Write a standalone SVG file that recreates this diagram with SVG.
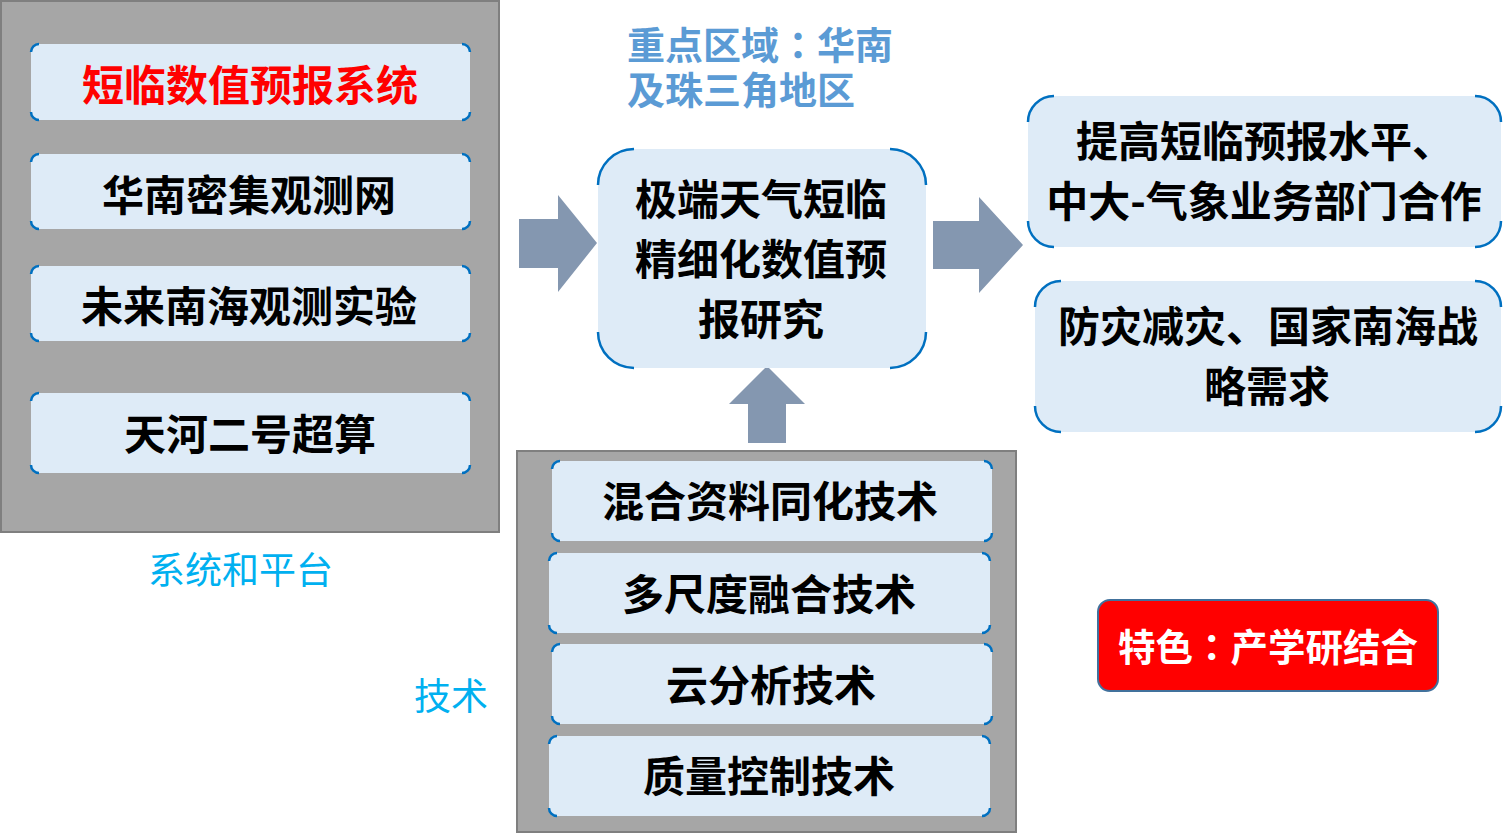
<svg xmlns="http://www.w3.org/2000/svg" width="1509" height="834" viewBox="0 0 1509 834">
<style>
.panel{fill:#A6A6A6;stroke:#7F7F7F;stroke-width:2}
.box{fill:#DEEBF7;stroke:none}
.corner{fill:none;stroke:#0070C0;stroke-width:2.5}
.arrow{fill:#8497B0}
.t{font-family:"Noto Sans CJK SC","Noto Sans",sans-serif;font-weight:700;font-size:42px;fill:#000;text-anchor:middle}
.red{fill:#FF0000}
.lbl{font-family:"Noto Sans CJK SC","Noto Sans",sans-serif;font-weight:400;font-size:37px;fill:#00B0F0}
.focus{font-family:"Noto Sans CJK SC","Noto Sans",sans-serif;font-weight:700;font-size:38px;fill:#5B9BD5}
.feat{font-family:"Noto Sans CJK SC","Noto Sans",sans-serif;font-weight:700;font-size:37.5px;fill:#FFFFFF;text-anchor:middle}
.colon{font-family:"Noto Sans CJK TC","Noto Sans CJK SC",sans-serif}
</style>
<rect width="1509" height="834" fill="#FFFFFF"/>

<g id="panel-systems">
<rect class="panel" x="1" y="1" width="498" height="531"/>
</g>
<g id="panel-tech">
<rect class="panel" x="517" y="451" width="499" height="381"/>
</g>

<g id="connectors">
<polygon class="arrow" points="519,219 558,219 558,195 597,243 558,292 558,268 519,268"/>
<polygon class="arrow" points="933,221 979,221 979,197 1023,245 979,293 979,269 933,269"/>
<polygon class="arrow" points="748,443 748,404 729,404 767,366 805,404 786,404 786,443"/>
</g>

<g id="node-sys1">
<rect class="box" x="31" y="44" width="439" height="76" rx="8"/>
<path class="corner" d="M31,52 A8,8 0 0 1 39,44 M462,44 A8,8 0 0 1 470,52 M470,112 A8,8 0 0 1 462,120 M39,120 A8,8 0 0 1 31,112"/>
<text class="t red" x="250" y="101">短临数值预报系统</text>
</g>
<g id="node-sys2">
<rect class="box" x="31" y="154" width="439" height="75" rx="8"/>
<path class="corner" d="M31,162 A8,8 0 0 1 39,154 M462,154 A8,8 0 0 1 470,162 M470,221 A8,8 0 0 1 462,229 M39,229 A8,8 0 0 1 31,221"/>
<text class="t" x="249" y="211">华南密集观测网</text>
</g>
<g id="node-sys3">
<rect class="box" x="31" y="266" width="439" height="75" rx="8"/>
<path class="corner" d="M31,274 A8,8 0 0 1 39,266 M462,266 A8,8 0 0 1 470,274 M470,333 A8,8 0 0 1 462,341 M39,341 A8,8 0 0 1 31,333"/>
<text class="t" x="249" y="322">未来南海观测实验</text>
</g>
<g id="node-sys4">
<rect class="box" x="31" y="393" width="439" height="80" rx="8"/>
<path class="corner" d="M31,401 A8,8 0 0 1 39,393 M462,393 A8,8 0 0 1 470,401 M470,465 A8,8 0 0 1 462,473 M39,473 A8,8 0 0 1 31,465"/>
<text class="t" x="250" y="450">天河二号超算</text>
</g>

<g id="label-systems">
<text class="lbl" x="148" y="584">系统和平台</text>
</g>
<g id="label-tech">
<text class="lbl" x="414" y="710">技术</text>
</g>

<g id="label-focus">
<text class="focus" x="627" y="59">重点区域<tspan class="colon">：</tspan>华南</text>
<text class="focus" x="627" y="104">及珠三角地区</text>
</g>

<g id="node-center">
<rect class="box" x="598" y="149" width="328" height="219" rx="36"/>
<path class="corner" d="M598,185 A36,36 0 0 1 634,149 M890,149 A36,36 0 0 1 926,185 M926,332 A36,36 0 0 1 890,368 M634,368 A36,36 0 0 1 598,332"/>
<text class="t" x="761" y="215">极端天气短临</text>
<text class="t" x="761" y="275">精细化数值预</text>
<text class="t" x="761" y="335">报研究</text>
</g>

<g id="node-out1">
<rect class="box" x="1028" y="96" width="473" height="151" rx="26"/>
<path class="corner" d="M1028,122 A26,26 0 0 1 1054,96 M1475,96 A26,26 0 0 1 1501,122 M1501,221 A26,26 0 0 1 1475,247 M1054,247 A26,26 0 0 1 1028,221"/>
<text class="t" x="1265" y="157">提高短临预报水平、</text>
<text class="t" x="1264" y="217">中大-气象业务部门合作</text>
</g>
<g id="node-out2">
<rect class="box" x="1035" y="281" width="466" height="151" rx="26"/>
<path class="corner" d="M1035,307 A26,26 0 0 1 1061,281 M1475,281 A26,26 0 0 1 1501,307 M1501,406 A26,26 0 0 1 1475,432 M1061,432 A26,26 0 0 1 1035,406"/>
<text class="t" x="1268" y="342">防灾减灾、国家南海战</text>
<text class="t" x="1267" y="402">略需求</text>
</g>

<g id="node-tech1">
<rect class="box" x="552" y="461" width="440" height="80" rx="8"/>
<path class="corner" d="M552,469 A8,8 0 0 1 560,461 M984,461 A8,8 0 0 1 992,469 M992,533 A8,8 0 0 1 984,541 M560,541 A8,8 0 0 1 552,533"/>
<text class="t" x="770" y="517">混合资料同化技术</text>
</g>
<g id="node-tech2">
<rect class="box" x="549" y="553" width="441" height="80" rx="8"/>
<path class="corner" d="M549,561 A8,8 0 0 1 557,553 M982,553 A8,8 0 0 1 990,561 M990,625 A8,8 0 0 1 982,633 M557,633 A8,8 0 0 1 549,625"/>
<text class="t" x="769" y="610">多尺度融合技术</text>
</g>
<g id="node-tech3">
<rect class="box" x="552" y="644" width="440" height="80" rx="8"/>
<path class="corner" d="M552,652 A8,8 0 0 1 560,644 M984,644 A8,8 0 0 1 992,652 M992,716 A8,8 0 0 1 984,724 M560,724 A8,8 0 0 1 552,716"/>
<text class="t" x="771" y="701">云分析技术</text>
</g>
<g id="node-tech4">
<rect class="box" x="549" y="736" width="441" height="80" rx="8"/>
<path class="corner" d="M549,744 A8,8 0 0 1 557,736 M982,736 A8,8 0 0 1 990,744 M990,808 A8,8 0 0 1 982,816 M557,816 A8,8 0 0 1 549,808"/>
<text class="t" x="769" y="792">质量控制技术</text>
</g>

<g id="node-feature">
<rect x="1098" y="600" width="340" height="91" rx="12" fill="#FF0000" stroke="#41719C" stroke-width="2"/>
<text class="feat" x="1268" y="661">特色<tspan class="colon">：</tspan>产学研结合</text>
</g>
</svg>
